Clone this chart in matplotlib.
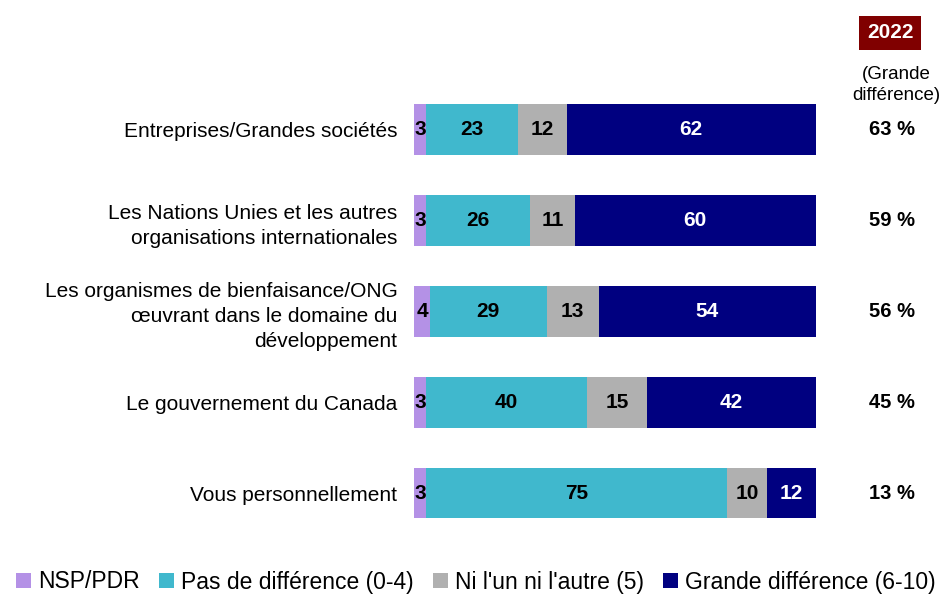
import matplotlib.pyplot as plt
import numpy as np

plt.rcParams['font.family'] = ['Liberation Sans', 'DejaVu Sans']

categories = ['Entreprises/Grandes sociétés',
              'Les Nations Unies et les autres\norganisations internationales',
              'Les organismes de bienfaisance/ONG\nœuvrant dans le domaine du\ndéveloppement',
              'Le gouvernement du Canada',
              'Vous personnellement']
nsp = [3, 3, 4, 3, 3]
pas_diff = [23, 26, 29, 40, 75]
ni_ni = [12, 11, 13, 15, 10]
grande = [62, 60, 54, 42, 12]
val_2022 = ['63 %', '59 %', '56 %', '45 %', '13 %']

series = [('NSP/PDR', nsp, '#B491E6', 'black'),
          ('Pas de différence (0-4)', pas_diff, '#40B8CD', 'black'),
          ("Ni l'un ni l'autre (5)", ni_ni, '#B0B0B0', 'black'),
          ('Grande différence (6-10)', grande, '#000080', 'white')]

fig = plt.figure(figsize=(9.43, 5.95), dpi=100)
ax = fig.add_axes([0.439, 0.095, 0.426, 0.763])
y = np.arange(len(categories))
left = np.zeros(len(categories))
handles = []
for name, vals, col, tcol in series:
    b = ax.barh(y, vals, left=left, height=0.56, color=col, label=name)
    handles.append(b)
    for yi, (l, v) in enumerate(zip(left, vals)):
        ax.text(l + v / 2, yi, str(v), ha='center', va='center',
                color=tcol, fontsize=15, fontweight='bold')
    left += np.array(vals)

ax.set_xlim(0, 100)
ax.set_ylim(len(categories) - 0.5, -0.5)
ax.set_yticks(y)
ax.set_yticklabels(categories, fontsize=15, linespacing=1.4)
ax.tick_params(axis='y', length=0, pad=12)
ax.set_xticks([])
for s in ax.spines.values():
    s.set_visible(False)

# right column: 2022 values
for yi, t in enumerate(val_2022):
    ax.text(1.19, yi, t, transform=ax.get_yaxis_transform(), ha='center',
            va='center', fontsize=14.5, fontweight='bold')
fig.text(890 / 943, 1 - 33 / 595, '2022', ha='center', va='center', color='white',
         fontsize=15, fontweight='bold',
         bbox=dict(boxstyle='square,pad=0.35', fc='#800000', ec='none'))
fig.text(896 / 943, 1 - 85 / 595, '(Grande\ndifférence)', ha='center', va='center',
         fontsize=13.5, linespacing=1.35)

fig.legend(handles=handles, loc='center left', bbox_to_anchor=(0.0, 1 - 582 / 595),
           ncol=4, frameon=False, fontsize=16.5, handlelength=0.65, handleheight=0.65,
           handletextpad=0.3, columnspacing=0.85, borderaxespad=0.3)

fig.savefig('out.png', dpi=100)
